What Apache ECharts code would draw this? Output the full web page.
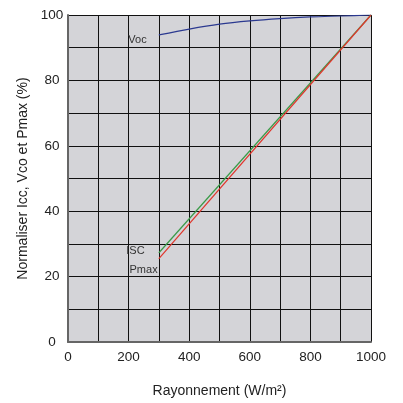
<!DOCTYPE html>
<html><head><meta charset="utf-8">
<script src="https://cdn.jsdelivr.net/npm/echarts@6/dist/echarts.min.js"></script>
<style>html,body{margin:0;padding:0;background:#fff}#c{width:403px;height:403px}</style>
</head><body><div id="c"></div>
<script>
const irradiance = [300, 400, 500, 600, 700, 800, 900, 1000];
const vocValues = [93.9, 95.7, 97.2, 98.2, 98.9, 99.4, 99.7, 100];
const iscX = [300, 1000];
const iscValues = [27.3, 100];
const pmaxX = [300, 1000];
const pmaxValues = [25.5, 100];
const xTicks = [0, 200, 400, 600, 800, 1000];
const yTicks = [0, 20, 40, 60, 80, 100];
const seriesNames = ['Voc', 'ISC', 'Pmax'];

const font = 'Liberation Sans, Arial, sans-serif';
const pair = (xs, ys) => xs.map((x, i) => [x, ys[i]]);
function withLabel(points, name, offset) {
  return points.map((p, i) => i === 0 ? {
    value: p,
    label: {show: true, formatter: name, position: 'left', offset: offset, distance: 2,
      fontSize: 11, color: '#333', fontFamily: font}
  } : p);
}

const chart = echarts.init(document.getElementById('c'), null, {renderer: 'canvas'});
function lineSeries(name, data, color, offset, smooth) {
  return {name: name, type: 'line', smooth: smooth, showSymbol: true, symbol: 'circle', symbolSize: 0.5,
    itemStyle: {color: color}, label: {show: false},
    data: withLabel(data, name, offset), lineStyle: {color: color, width: 1.2}};
}
chart.setOption({
  animation: false,
  backgroundColor: '#fff',
  grid: {left: 68, right: 32, top: 15, bottom: 61, show: true, backgroundColor: '#d4d4d8', borderWidth: 0},
  xAxis: {
    type: 'value', min: 0, max: 1000, interval: 100,
    name: 'Rayonnement (W/m²)', nameLocation: 'middle', nameGap: 42,
    nameTextStyle: {fontSize: 14, color: '#222', fontFamily: font},
    axisLine: {show: true, lineStyle: {color: '#666', width: 2}},
    axisTick: {show: false},
    axisLabel: {fontSize: 13.5, color: '#222', margin: 8, fontFamily: font,
      formatter: v => xTicks.includes(v) ? String(v) : ''},
    splitLine: {show: true, lineStyle: {color: '#111', width: 1}}
  },
  yAxis: {
    type: 'value', min: 0, max: 100, interval: 10,
    name: 'Normaliser Icc, Vco et Pmax (%)', nameLocation: 'middle', nameGap: 36,
    nameTextStyle: {fontSize: 14, color: '#222', fontFamily: font},
    axisLine: {show: true, lineStyle: {color: '#666', width: 2}},
    axisTick: {show: false},
    axisLabel: {fontSize: 13.5, color: '#222', margin: 16, align: 'center', fontFamily: font,
      formatter: v => yTicks.includes(v) ? String(v) : ''},
    splitLine: {show: true, lineStyle: {color: '#111', width: 1}}
  },
  series: [
    lineSeries(seriesNames[0], pair(irradiance, vocValues), '#2b3990', [-10, 5], 0.3),
    lineSeries(seriesNames[1], pair(iscX, iscValues), '#3a9a48', [-12, -2], false),
    lineSeries(seriesNames[2], pair(pmaxX, pmaxValues), '#e0352b', [1, 11], false)
  ]
});
</script></body></html>
